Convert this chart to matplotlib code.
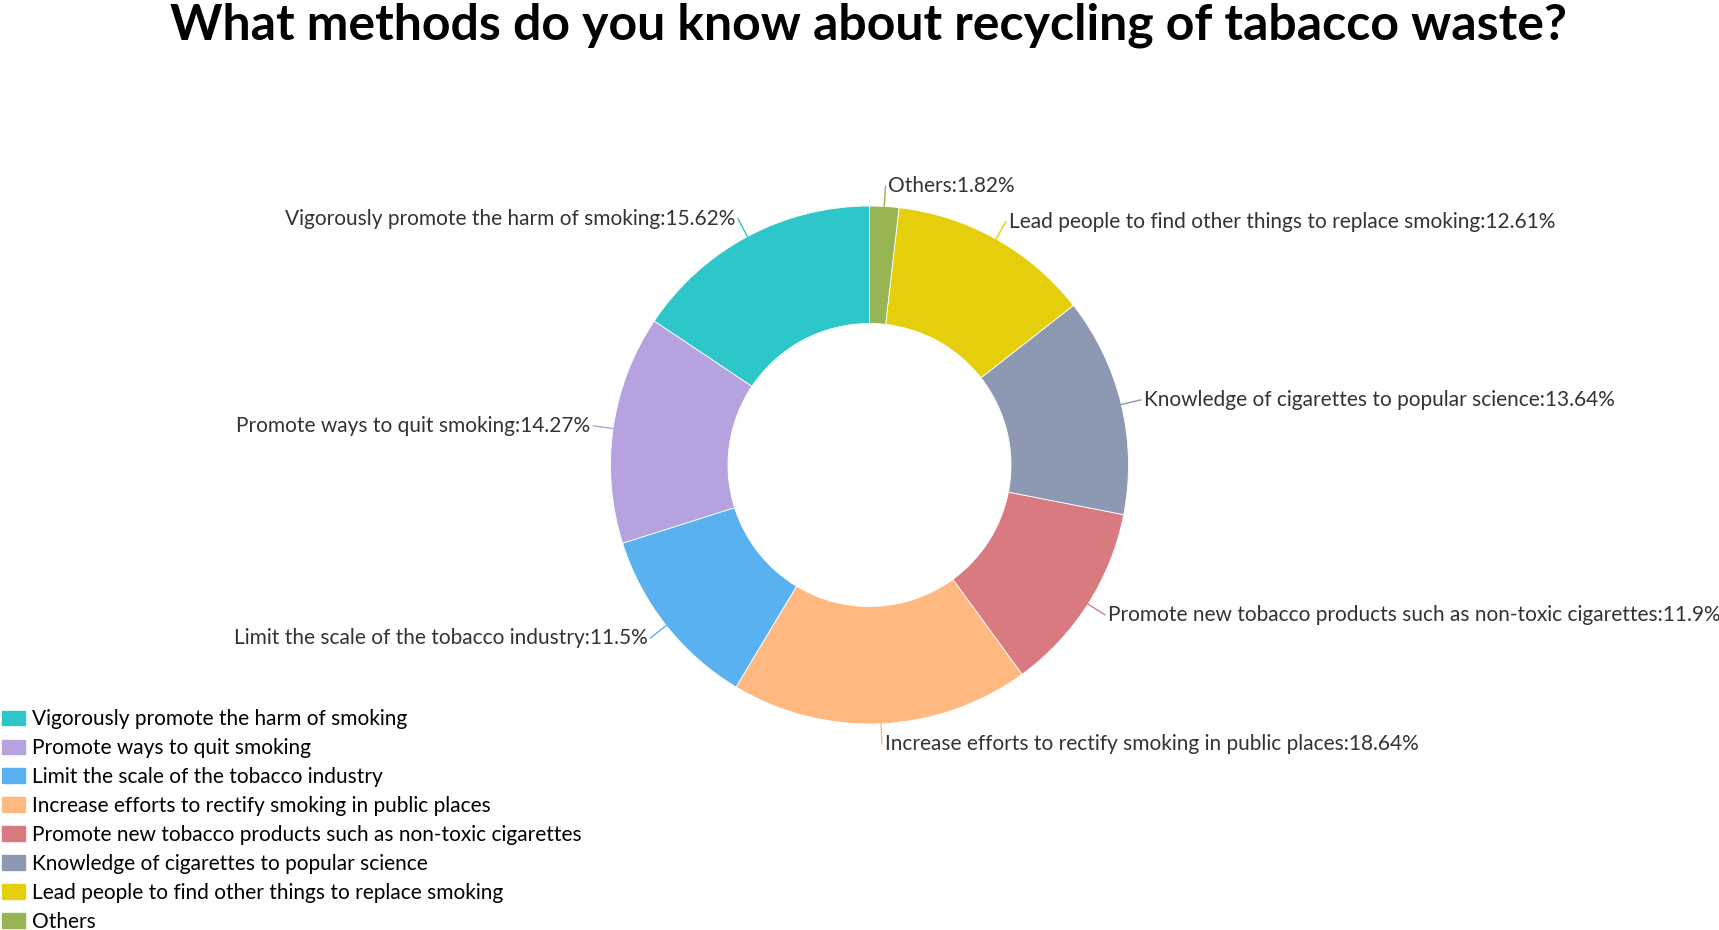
import numpy as np
import matplotlib
matplotlib.use("Agg")
import matplotlib.pyplot as plt
from matplotlib.patches import Patch

# 数据
labels = [
    "Vigorously promote the harm of smoking",
    "Promote ways to quit smoking",
    "Limit the scale of the tobacco industry",
    "Increase efforts to rectify smoking in public places",
    "Promote new tobacco products such as non-toxic cigarettes",
    "Knowledge of cigarettes to popular science",
    "Lead people to find other things to replace smoking",
    "Others",
]
values = [15.62, 14.27, 11.5, 18.64, 11.9, 13.64, 12.61, 1.82]
colors = ["#2ec7c9", "#b6a2de", "#5ab1ef", "#ffb980",
          "#d87a80", "#8d98b3", "#e5cf0d", "#97b552"]

plt.rcParams['font.family'] = ['Lato', 'DejaVu Sans']

W, H = 1719, 930
fig = plt.figure(figsize=(W / 100, H / 100), dpi=100)
ax = fig.add_axes([0, 0, 1, 1])

cx, cy = 869.5, H - 465   # 圆心 (像素坐标)
R, r_in = 259, 141.5

wedges, _ = ax.pie(values, colors=colors, startangle=90, counterclock=True,
                   radius=R, center=(cx, cy),
                   wedgeprops=dict(width=R - r_in, edgecolor='white', linewidth=0.6))
ax.set_xlim(0, W)
ax.set_ylim(0, H)
ax.set_aspect('equal')
ax.axis('off')

# 标签 + 引导线
for w, lab, v, c in zip(wedges, labels, values, colors):
    ang = np.deg2rad((w.theta1 + w.theta2) / 2)
    ca, sa = np.cos(ang), np.sin(ang)
    x0, y0 = cx + R * ca, cy + R * sa
    x1, y1 = cx + (R + 20) * ca, cy + (R + 20) * sa
    ax.plot([x0, x1], [y0, y1], color=c, lw=1)
    ha = 'left' if ca >= 0 else 'right'
    dx = 3 if ca >= 0 else -3
    ax.text(x1 + dx, y1, f"{lab}:{v:g}%", ha=ha, va='center',
            fontsize=15, color='#333333')

fig.text(868 / W, 1 - 40 / H, "What methods do you know about recycling of tabacco waste?",
         ha='center', va='baseline', fontsize=36, fontweight='bold', color='black')

handles = [Patch(facecolor=c, edgecolor=c) for c in colors]
fig.legend(handles, labels, loc='lower left', bbox_to_anchor=(0.001, -0.002),
           frameon=False, fontsize=15, handlelength=1.1, handleheight=0.7,
           handletextpad=0.35, labelspacing=0.43, borderpad=0, borderaxespad=0,
           labelcolor='#000000')

fig.savefig("out.png", dpi=100)
